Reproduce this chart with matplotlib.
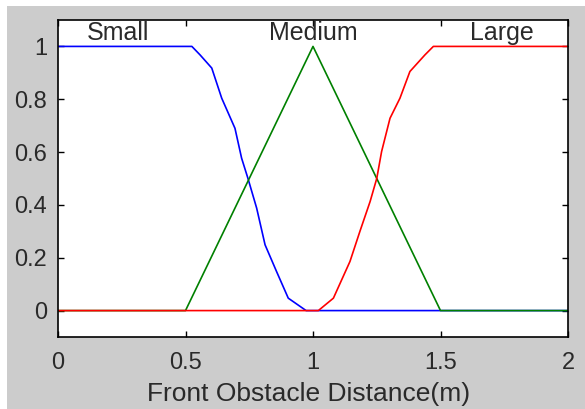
import matplotlib
matplotlib.use('Agg')
import matplotlib.pyplot as plt
from matplotlib.patches import Rectangle

# membership curves
small_x = [0, 0.525, 0.557, 0.603, 0.642, 0.694, 0.72, 0.745, 0.779, 0.812, 0.857, 0.903, 0.973, 2]
small_y = [1, 1, 0.968, 0.918, 0.804, 0.69, 0.577, 0.5, 0.388, 0.249, 0.148, 0.047, 0, 0]

medium_x = [0, 0.5, 1.0, 1.5, 2]
medium_y = [0, 0, 1, 0, 0]

large_x = [0, 1.021, 1.08, 1.145, 1.184, 1.224, 1.25, 1.269, 1.302, 1.341, 1.38, 1.439, 1.472, 2]
large_y = [0, 0, 0.047, 0.186, 0.3, 0.413, 0.5, 0.602, 0.728, 0.804, 0.905, 0.968, 1, 1]

names = ['Small', 'Medium', 'Large']
name_x = [0.235, 1.0, 1.74]

xticks = [0, 0.5, 1, 1.5, 2]
xticklabels = ['0', '0.5', '1', '1.5', '2']
yticks = [0, 0.2, 0.4, 0.6, 0.8, 1]
yticklabels = ['0', '0.2', '0.4', '0.6', '0.8', '1']

plt.rcParams['font.family'] = ['Liberation Sans', 'DejaVu Sans']

fig = plt.figure(figsize=(5.85, 4.09), dpi=100)
fig.patch.set_facecolor('white')
fig.patches.append(Rectangle((7 / 585, 0), 1, 1 - 6 / 409, transform=fig.transFigure,
                             facecolor='#cccccc', edgecolor='none', zorder=-10))

ax = fig.add_axes([58 / 585, 1 - 337 / 409, 510 / 585, 317 / 409])
ax.set_facecolor('white')

ax.plot(small_x, small_y, color='#0000ff', lw=1.2)
ax.plot(medium_x, medium_y, color='#008000', lw=1.2)
ax.plot(large_x, large_y, color='#ff0000', lw=1.2)

for n, x in zip(names, name_x):
    ax.text(x, 1.05, n, ha='center', va='center', fontsize=18, color='#2a2a2a')

ax.set_xlim(0, 2)
ax.set_ylim(-0.1, 1.1)
ax.set_xticks(xticks)
ax.set_xticklabels(xticklabels)
ax.set_yticks(yticks)
ax.set_yticklabels(yticklabels)
ax.tick_params(direction='in', length=4, width=1, top=True, right=True,
               labelsize=17, labelcolor='#2a2a2a', pad=8)
ax.tick_params(axis='x', pad=11)
for s in ax.spines.values():
    s.set_linewidth(1.2)
ax.set_xlabel('Front Obstacle Distance(m)', fontsize=19, color='#2a2a2a', va='baseline')
ax.xaxis.set_label_coords(0.492, -0.203)

fig.savefig('out.png', dpi=100)
